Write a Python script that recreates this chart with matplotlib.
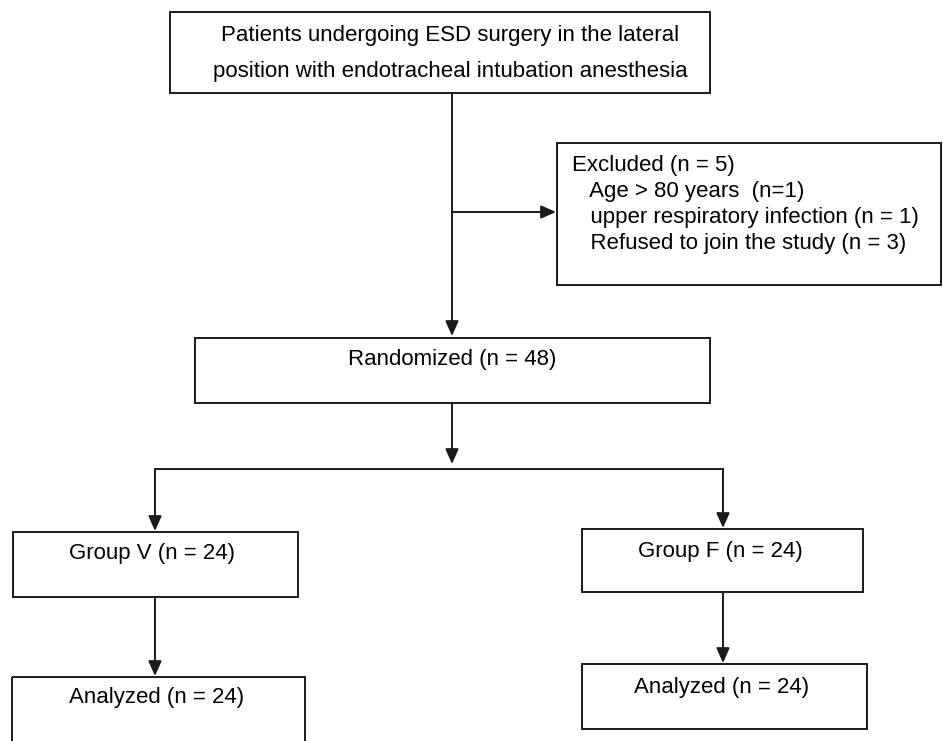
import matplotlib.pyplot as plt
from matplotlib.patches import Rectangle

plt.rcParams['font.family'] = ['Liberation Sans', 'DejaVu Sans']

# box texts
top_lines = ["Patients undergoing ESD surgery in the lateral",
             "position with endotracheal intubation anesthesia"]
excluded_lines = ["Excluded (n = 5)",
                  "   Age > 80 years  (n=1)",
                  "   upper respiratory infection (n = 1)",
                  "   Refused to join the study (n = 3)"]
random_label = "Randomized (n = 48)"
group_labels = ["Group V (n = 24)", "Group F (n = 24)"]
analyzed_labels = ["Analyzed (n = 24)", "Analyzed (n = 24)"]

fig = plt.figure(figsize=(9.43, 7.41), dpi=100)
ax = fig.add_axes([0, 0, 1, 1])
ax.set_xlim(0, 943)
ax.set_ylim(741, 0)
ax.axis('off')

lc = '#1a1a1a'
fs = 16


def box(x0, y0, x1, y1):
    ax.add_patch(Rectangle((x0, y0), x1 - x0, y1 - y0, fill=False, ec=lc, lw=1.4))


def line(x0, y0, x1, y1):
    ax.plot([x0, x1], [y0, y1], color=lc, lw=1.4, solid_capstyle='butt')


def arrow(x0, y0, x1, y1):
    ax.annotate('', xy=(x1, y1), xytext=(x0, y0),
                arrowprops=dict(arrowstyle='-|>,head_length=0.9,head_width=0.4',
                                color=lc, lw=1.4, shrinkA=0, shrinkB=0))


# top box
box(170, 12, 710, 93)
ax.text(450, 36, top_lines[0], ha='center', va='center', fontsize=fs)
ax.text(450, 72, top_lines[1], ha='center', va='center', fontsize=fs)

# main trunk
arrow(452, 93, 452, 336)
arrow(452, 212, 556, 212)

# excluded box
box(557, 143, 941, 285)
for i, t in enumerate(excluded_lines):
    ax.text(572, 165 + i * 26, t, ha='left', va='center', fontsize=fs)

# randomized
box(195, 338, 710, 403)
ax.text(452, 360, random_label, ha='center', va='center', fontsize=fs)
arrow(452, 403, 452, 464)

# split
line(155, 469, 724, 469)
arrow(155, 469, 155, 531)
arrow(723, 469, 723, 528)

# group boxes
box(13, 532, 298, 597)
ax.text(152, 553, group_labels[0], ha='center', va='center', fontsize=fs)
box(582, 529, 863, 592)
ax.text(720, 552, group_labels[1], ha='center', va='center', fontsize=fs)

arrow(155, 597, 155, 676)
arrow(723, 592, 723, 663)

# analyzed boxes
box(12, 677, 305, 760)
ax.text(157, 698, analyzed_labels[0], ha='center', va='center', fontsize=fs)
box(582, 664, 867, 729)
ax.text(722, 688, analyzed_labels[1], ha='center', va='center', fontsize=fs)

fig.savefig('out.png', dpi=100, facecolor='white')
